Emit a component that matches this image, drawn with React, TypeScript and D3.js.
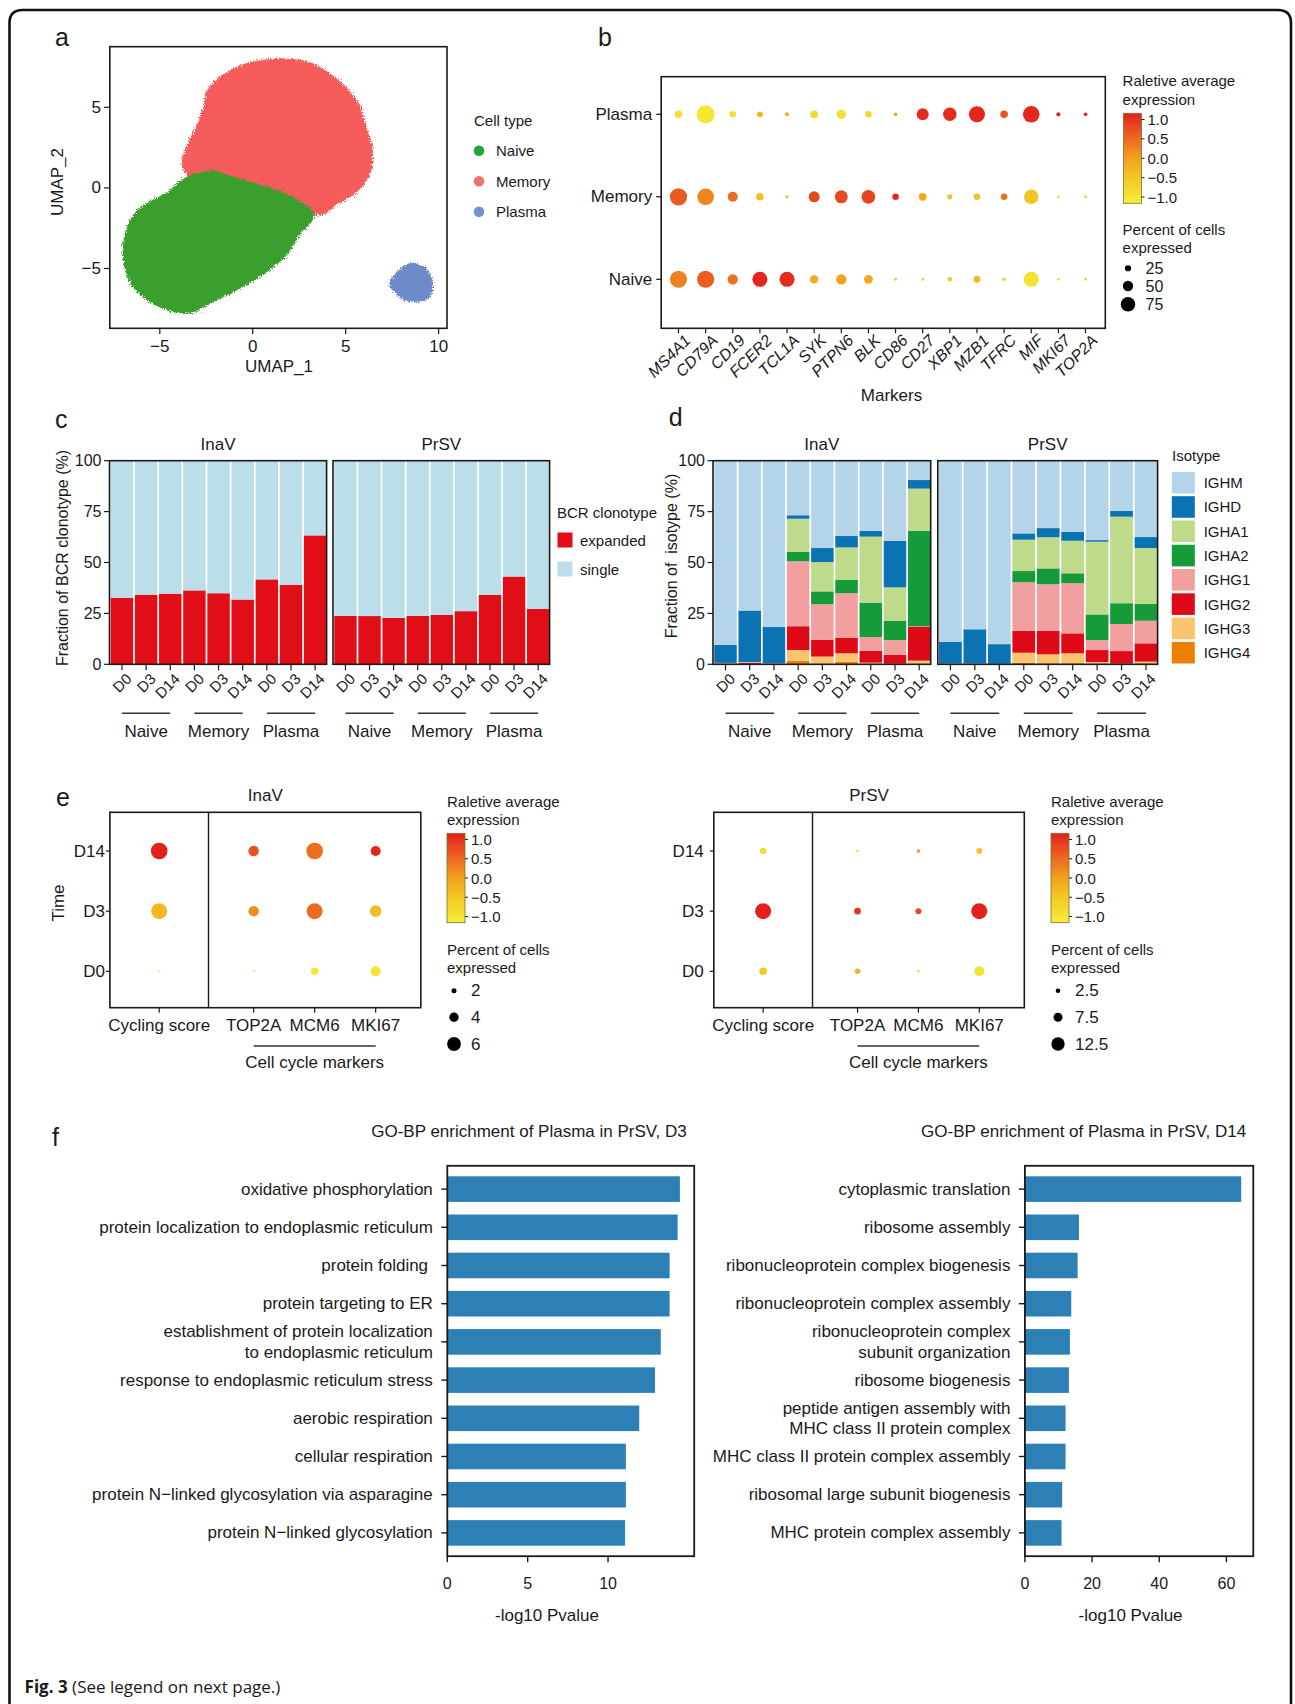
import React from 'react';
import * as d3 from 'd3';

const FONT = "'Liberation Sans', Arial, Helvetica, sans-serif";
const INK = '#1a1a1a';
const fmt = (v: number, d = 0) => (v < 0 ? '\u2212' : '') + Math.abs(v).toFixed(d);

// ================= Panel a : UMAP =================
const umapXTicks = [-5, 0, 5, 10];
const umapYTicks = [-5, 0, 5];
const memoryOutline: number[][] = [
  [-2.33, 6.16], [-1.26, 7.19], [-0.02, 7.75], [1.63, 7.95], [3.07, 7.71], [4.3, 6.88], [5.64, 5.23],
  [6.05, 3.78], [6.4, 2.33], [6.26, 0.89], [5.53, -0.25], [4.51, -0.97], [3.68, -1.62], [2.86, -1.45],
  [1.63, -0.85], [-0.02, -0.35], [-1.67, -0.05], [-3.2, 0.45], [-3.75, 1.5], [-3.35, 2.95], [-2.9, 3.99], [-2.59, 5.02],
];
const naiveOutline: number[][] = [
  [-4.6, -0.35], [-3.9, 0.35], [-3.0, 0.85], [-2.0, 0.95], [-1.0, 0.6], [0.2, 0.2], [1.5, -0.3], [2.6, -0.95],
  [3.25, -1.65], [3.0, -2.2], [2.45, -2.9], [1.85, -4.05], [0.8, -5.1], [-0.64, -6.14], [-2.08, -6.96], [-3.31, -7.69],
  [-4.34, -7.58], [-5.58, -6.96], [-6.5, -5.93], [-6.91, -4.48], [-6.81, -2.83], [-6.3, -1.59], [-5.5, -0.9],
];
const plasmaOutline: number[][] = [
  [7.39, -5.93], [7.9, -5.14], [8.52, -4.73], [9.24, -5.0], [9.61, -5.83], [9.53, -6.65], [8.93, -7.0], [8.11, -6.86], [7.7, -6.45],
];
const cellTypes = ['Naive', 'Memory', 'Plasma'];
const cellTypeLegendColors = ['#1FA33A', '#EC7367', '#7291CD'];
const cellTypePointColors = ['#3A9F2F', '#F75B5B', '#6E8BC9'];

// ================= Panel b : dot plot =================
const markers = ['MS4A1', 'CD79A', 'CD19', 'FCER2', 'TCL1A', 'SYK', 'PTPN6', 'BLK', 'CD86', 'CD27', 'XBP1', 'MZB1', 'TFRC', 'MIF', 'MKI67', 'TOP2A'];
const bCellTypes = ['Plasma', 'Memory', 'Naive'];
const bPctPlasma = [34, 96, 27, 23, 13, 35, 44, 27, 10, 60, 69, 85, 34, 88, 13, 10];
const bExpPlasma = [-0.9, -1.0, -0.9, -0.3, -0.2, -0.8, -0.9, -0.8, -0.1, 1.05, 1.05, 1.1, 0.7, 1.1, 1.15, 1.15];
const bPctMemory = [92, 88, 48, 34, 9, 54, 66, 71, 27, 35, 19, 27, 27, 75, 4, 4];
const bExpMemory = [0.65, 0.25, 0.5, -0.4, -0.5, 0.8, 0.8, 0.85, 1.1, -0.1, -0.4, -0.4, 0.45, -0.45, -0.7, -0.5];
const bPctNaive = [91, 91, 50, 79, 79, 38, 50, 41, 6, 6, 15, 29, 10, 79, 4, 4];
const bExpNaive = [0.3, 0.6, 0.45, 1.1, 1.05, -0.1, 0.0, -0.1, -0.6, -0.8, -0.5, -0.3, -0.6, -0.95, -0.7, -0.5];
const bSizeLegend = [25, 50, 75];
const colorTicks = [1, 0.5, 0, -0.5, -1];

// ================= Panel c : BCR clonotype =================
const timepoints = ['D0', 'D3', 'D14'];
const cellGroups = ['Naive', 'Memory', 'Plasma'];
const barKeys = cellGroups.flatMap((g) => timepoints.map((t) => `${g}|${t}`));
const clonoExpandedInaV = [32.7, 34.2, 34.7, 36.3, 34.9, 31.8, 41.7, 39.0, 63.3];
const clonoExpandedPrSV = [23.8, 23.7, 22.8, 23.8, 24.3, 26.1, 34.1, 43.1, 27.2];
const clonoSingleInaV = [67.3, 65.8, 65.3, 63.7, 65.1, 68.2, 58.3, 61.0, 36.7];
const clonoSinglePrSV = [76.2, 76.3, 77.2, 76.2, 75.7, 73.9, 65.9, 56.9, 72.8];
const clonoTypes = ['expanded', 'single'];
const clonoColors = ['#E10E17', '#BBDEEA'];
const pctTicks = [0, 25, 50, 75, 100];

// ================= Panel d : isotypes =================
const isotypes = ['IGHM', 'IGHD', 'IGHA1', 'IGHA2', 'IGHG1', 'IGHG2', 'IGHG3', 'IGHG4'];
const isotypeColors = ['#B4D4EA', '#0B72B3', '#BEDB8B', '#159B3A', '#F2A09F', '#DF0A18', '#F8C56C', '#EE7F05'];
const isoInaV: Record<string, number[]> = {
  IGHG4: [0, 0, 0, 1.8, 0.3, 1.3, 0.3, 0, 0.3],
  IGHG3: [0.2, 0.2, 0.2, 5.2, 3.5, 4.1, 0.5, 0.3, 1.5],
  IGHG2: [0.2, 0.5, 0.2, 11.7, 8.2, 7.7, 5.9, 4.3, 16.7],
  IGHG1: [0.2, 0.3, 0.1, 31.9, 17.5, 21.8, 6.7, 7.3, 0.2],
  IGHA2: [0, 0, 0, 4.6, 6.3, 6.5, 16.9, 9.5, 46.9],
  IGHA1: [0.1, 0.1, 0.1, 16.3, 14.4, 16.0, 32.4, 16.4, 20.7],
  IGHD: [8.8, 25.3, 17.7, 1.7, 6.9, 5.6, 2.8, 22.8, 4.2],
  IGHM: [90.5, 73.6, 81.7, 26.8, 42.9, 37.0, 34.5, 39.4, 9.5],
};
const isoPrSV: Record<string, number[]> = {
  IGHG4: [0, 0, 0, 0.8, 0.5, 0.5, 0.3, 0, 0.5],
  IGHG3: [0.1, 0.2, 0.1, 4.9, 4.4, 4.9, 0.8, 0.3, 0.8],
  IGHG2: [0.1, 0.2, 0.1, 10.7, 11.5, 9.8, 5.9, 6.2, 9.0],
  IGHG1: [0.1, 0.1, 0, 23.9, 22.9, 24.6, 4.9, 13.3, 11.1],
  IGHA2: [0.3, 0.1, 0.1, 5.5, 7.8, 4.9, 12.6, 10.2, 8.2],
  IGHA1: [0, 0, 0, 15.4, 15.3, 16.0, 35.7, 42.5, 27.5],
  IGHD: [10.5, 16.6, 9.6, 3.1, 4.5, 4.3, 0.8, 2.8, 5.4],
  IGHM: [88.9, 82.8, 90.1, 35.7, 33.1, 35.0, 39.0, 24.7, 37.5],
};

// ================= Panel e : cell cycle =================
const eTimes = ['D14', 'D3', 'D0'];
const eMarkers = ['TOP2A', 'MCM6', 'MKI67'];
const inavCyclingPct = [7.3, 7.0, 0.6];
const inavCyclingExp = [1.15, -0.3, -1.1];
const inavMarkerPct = [[4.5, 4.5, 0.6], [7.3, 7.0, 3.1], [4.3, 5.0, 4.3]];
const inavMarkerExp = [[0.7, 0.2, -1.0], [0.45, 0.5, -1.0], [1.1, -0.35, -0.95]];
const prsvCyclingPct = [4.8, 15.5, 5.9];
const prsvCyclingExp = [-0.9, 1.15, -0.55];
const prsvMarkerPct = [[0.2, 4.8, 3.6], [1.1, 4.1, 0.2], [4.1, 15.5, 8.6]];
const prsvMarkerExp = [[-0.8, 1.0, -0.2], [0.1, 0.8, -0.7], [-0.5, 1.15, -0.95]];
const inavSizeLegend = [2, 4, 6];
const prsvSizeLegend = [2.5, 7.5, 12.5];

// ================= Panel f : GO enrichment =================
const goTermsD3 = [
  'oxidative phosphorylation', 'protein localization to endoplasmic reticulum', 'protein folding ', 'protein targeting to ER',
  'establishment of protein localization\nto endoplasmic reticulum', 'response to endoplasmic reticulum stress', 'aerobic respiration',
  'cellular respiration', 'protein N\u2212linked glycosylation via asparagine', 'protein N\u2212linked glycosylation',
];
const goValuesD3 = [14.47, 14.33, 13.83, 13.83, 13.28, 12.92, 11.94, 11.11, 11.11, 11.06];
const goTicksD3 = [0, 5, 10];
const goTermsD14 = [
  'cytoplasmic translation', 'ribosome assembly', 'ribonucleoprotein complex biogenesis', 'ribonucleoprotein complex assembly',
  'ribonucleoprotein complex\nsubunit organization', 'ribosome biogenesis', 'peptide antigen assembly with\nMHC class II protein complex',
  'MHC class II protein complex assembly', 'ribosomal large subunit biogenesis', 'MHC protein complex assembly',
];
const goValuesD14 = [64.4, 16.1, 15.7, 13.8, 13.4, 13.1, 12.1, 12.1, 11.1, 10.9];
const goTicksD14 = [0, 20, 40, 60];

const exprColor = d3
  .scaleLinear<string>()
  .domain([-1.16, -0.55, 0, 0.55, 1.16])
  .range(['#F6EF38', '#F4CB25', '#F2A11D', '#EC6420', '#E2201C'])
  .clamp(true);

function ColorBar({ x, y0, y1, id }: { x: number; y0: number; y1: number; id: string }) {
  const w = 18;
  const s = d3.scaleLinear().domain([-1.16, 1.16]).range([y1, y0]);
  const stops = d3.range(0, 11).map((i) => ({ off: i / 10, c: exprColor(1.16 - (2.32 * i) / 10) }));
  return (
    <g>
      <defs>
        <linearGradient id={id} x1="0" y1="0" x2="0" y2="1">
          {stops.map((st, i) => (
            <stop key={i} offset={st.off} stopColor={st.c} />
          ))}
        </linearGradient>
      </defs>
      <rect x={x} y={y0} width={w} height={y1 - y0} fill={`url(#${id})`} stroke="#77733a" strokeWidth={0.8} />
      {colorTicks.map((t) => (
        <g key={t}>
          <line x1={x + w} x2={x + w + 3} y1={s(t)} y2={s(t)} stroke={INK} strokeWidth={1} />
          <text x={x + w + 6} y={s(t)} dominantBaseline="central" fontSize={15}>
            {fmt(t, 1)}
          </text>
        </g>
      ))}
    </g>
  );
}

function PanelA() {
  const x = d3.scaleLinear().domain([-7.69, 10.45]).range([109.8, 447]);
  const y = d3.scaleLinear().domain([-8.71, 8.76]).range([328.3, 46.7]);
  const line = d3
    .line<number[]>()
    .x((d) => x(d[0]))
    .y((d) => y(d[1]))
    .curve(d3.curveCatmullRomClosed.alpha(0.5));
  const clusters = [
    { pts: memoryOutline, color: cellTypePointColors[1] },
    { pts: naiveOutline, color: cellTypePointColors[0] },
    { pts: plasmaOutline, color: cellTypePointColors[2] },
  ];
  const legY = d3.scalePoint<string>().domain(cellTypes).range([150.7, 211.7]);
  return (
    <g>
      <defs>
        <filter id="scatterEdge" x="-10%" y="-10%" width="120%" height="120%">
          <feTurbulence type="fractalNoise" baseFrequency="0.75" numOctaves="2" seed="4" result="noise" />
          <feDisplacementMap in="SourceGraphic" in2="noise" scale="7" xChannelSelector="R" yChannelSelector="G" />
        </filter>
        <clipPath id="umapClip">
          <rect x={109.8} y={46.7} width={337.2} height={281.6} />
        </clipPath>
      </defs>
      <text x={55} y={37} dominantBaseline="central" fontSize={25}>a</text>
      <g clipPath="url(#umapClip)">
        <g filter="url(#scatterEdge)">
          {clusters.map((c, i) => (
            <path key={i} d={line(c.pts) || ''} fill={c.color} stroke={c.color} strokeWidth={2.5} strokeDasharray="1 1.5" strokeLinecap="round" />
          ))}
        </g>
      </g>
      <rect x={109.8} y={46.7} width={337.2} height={281.6} fill="none" stroke={INK} strokeWidth={1.6} />
      {umapXTicks.map((t) => (
        <g key={t}>
          <line x1={x(t)} x2={x(t)} y1={328.3} y2={334} stroke={INK} strokeWidth={1.2} />
          <text x={x(t)} y={346} textAnchor="middle" dominantBaseline="central" fontSize={17}>{fmt(t)}</text>
        </g>
      ))}
      {umapYTicks.map((t) => (
        <g key={t}>
          <line x1={104} x2={109.8} y1={y(t)} y2={y(t)} stroke={INK} strokeWidth={1.2} />
          <text x={101} y={y(t)} textAnchor="end" dominantBaseline="central" fontSize={17}>{fmt(t)}</text>
        </g>
      ))}
      <text x={279} y={366} textAnchor="middle" dominantBaseline="central" fontSize={17}>UMAP_1</text>
      <text transform="translate(57,182) rotate(-90)" textAnchor="middle" dominantBaseline="central" fontSize={17}>UMAP_2</text>
      <text x={474} y={120} dominantBaseline="central" fontSize={15}>Cell type</text>
      {cellTypes.map((c, i) => (
        <g key={c}>
          <circle cx={479} cy={legY(c)} r={5.3} fill={cellTypeLegendColors[i]} />
          <text x={496} y={legY(c)} dominantBaseline="central" fontSize={15}>{c}</text>
        </g>
      ))}
    </g>
  );
}

function PanelB() {
  const bx0 = 661.2, bx1 = 1105.3, by0 = 76.7, by1 = 328.3;
  const x = d3.scalePoint<string>().domain(markers).range([678.5, 1085.5]);
  const y = d3.scalePoint<string>().domain(bCellTypes).range([114.3, 279.3]);
  const r = d3.scaleLinear().domain([0, 100]).range([1, 9.3]);
  const rows = [
    { type: 'Plasma', pct: bPctPlasma, exp: bExpPlasma },
    { type: 'Memory', pct: bPctMemory, exp: bExpMemory },
    { type: 'Naive', pct: bPctNaive, exp: bExpNaive },
  ];
  const sizeY = [268.3, 286, 304.3];
  return (
    <g>
      <text x={598} y={37} dominantBaseline="central" fontSize={25}>b</text>
      <rect x={bx0} y={by0} width={bx1 - bx0} height={by1 - by0} fill="none" stroke={INK} strokeWidth={1.6} />
      {rows.map((row) =>
        markers.map((m, i) => (
          <circle key={row.type + m} cx={x(m)} cy={y(row.type)} r={r(row.pct[i])} fill={exprColor(row.exp[i])} />
        ))
      )}
      {bCellTypes.map((t) => (
        <g key={t}>
          <line x1={bx0 - 5} x2={bx0} y1={y(t)} y2={y(t)} stroke={INK} strokeWidth={1.2} />
          <text x={bx0 - 9} y={y(t)} textAnchor="end" dominantBaseline="central" fontSize={17}>{t}</text>
        </g>
      ))}
      {markers.map((m) => (
        <g key={m}>
          <line x1={x(m)} x2={x(m)} y1={by1} y2={by1 + 5} stroke={INK} strokeWidth={1.2} />
          <text transform={`translate(${(x(m) || 0) + 5},${by1 + 5}) rotate(-45)`} textAnchor="end" dy="0.72em" fontSize={16} fontStyle="italic">
            {m}
          </text>
        </g>
      ))}
      <text x={891.5} y={395} textAnchor="middle" dominantBaseline="central" fontSize={17}>Markers</text>
      <text x={1122.6} y={80.7} dominantBaseline="central" fontSize={15}>Raletive average</text>
      <text x={1122.6} y={99} dominantBaseline="central" fontSize={15}>expression</text>
      <ColorBar x={1123.5} y0={113.3} y1={203.3} id="cbB" />
      <text x={1122.6} y={229.3} dominantBaseline="central" fontSize={15}>Percent of cells</text>
      <text x={1122.6} y={247.3} dominantBaseline="central" fontSize={15}>expressed</text>
      {bSizeLegend.map((v, i) => (
        <g key={v}>
          <circle cx={1128} cy={sizeY[i]} r={r(v)} fill="#000" />
          <text x={1145.5} y={sizeY[i]} dominantBaseline="central" fontSize={16}>{v}</text>
        </g>
      ))}
    </g>
  );
}

function FacetAxes({ x0, x1, xb, title, yTop, yBot }: { x0: number; x1: number; xb: d3.ScaleBand<string>; title: string; yTop: number; yBot: number }) {
  const bw = xb.bandwidth();
  return (
    <g>
      <rect x={x0} y={yTop} width={x1 - x0} height={yBot - yTop} fill="none" stroke={INK} strokeWidth={1.6} />
      <text x={(x0 + x1) / 2} y={444} textAnchor="middle" dominantBaseline="central" fontSize={17}>{title}</text>
      {barKeys.map((k) => {
        const cx = (xb(k) || 0) + bw / 2;
        return (
          <g key={k}>
            <line x1={cx} x2={cx} y1={yBot} y2={yBot + 6} stroke={INK} strokeWidth={1.2} />
            <text transform={`translate(${cx + 3},${yBot + 8}) rotate(-45)`} textAnchor="end" dy="0.72em" fontSize={15}>
              {k.split('|')[1]}
            </text>
          </g>
        );
      })}
      {cellGroups.map((g) => {
        const a = (xb(`${g}|D0`) || 0) + bw / 2;
        const b = (xb(`${g}|D14`) || 0) + bw / 2;
        return (
          <g key={g}>
            <line x1={a} x2={b} y1={713.3} y2={713.3} stroke="#333" strokeWidth={1.6} />
            <text x={(a + b) / 2} y={731} textAnchor="middle" dominantBaseline="central" fontSize={17}>{g}</text>
          </g>
        );
      })}
    </g>
  );
}

function PanelC() {
  const yTop = 460.7, yBot = 664.3;
  const y = d3.scaleLinear().domain([0, 100]).range([yBot, yTop]);
  const facets = [
    { title: 'InaV', x0: 109.5, x1: 326.6, exp: clonoExpandedInaV, sing: clonoSingleInaV },
    { title: 'PrSV', x0: 333, x1: 549.6, exp: clonoExpandedPrSV, sing: clonoSinglePrSV },
  ];
  return (
    <g>
      <text x={55} y={419} dominantBaseline="central" fontSize={25}>c</text>
      {facets.map((f) => {
        const xb = d3.scaleBand<string>().domain(barKeys).range([f.x0 + 1, f.x1]).paddingInner(0.07).paddingOuter(0.01);
        const rows = barKeys.map((k, i) => ({ key: k, expanded: f.exp[i], single: f.sing[i] }));
        const stacked = d3.stack<any>().keys(clonoTypes)(rows);
        return (
          <g key={f.title}>
            {stacked.map((s, si) =>
              s.map((d, i) => (
                <rect key={si + '-' + i} x={xb(rows[i].key)} width={xb.bandwidth()} y={y(d[1])} height={y(d[0]) - y(d[1])} fill={clonoColors[si]} />
              ))
            )}
            <FacetAxes x0={f.x0} x1={f.x1} xb={xb} title={f.title} yTop={yTop} yBot={yBot} />
          </g>
        );
      })}
      {pctTicks.map((t) => (
        <g key={t}>
          <line x1={104} x2={109.5} y1={y(t)} y2={y(t)} stroke={INK} strokeWidth={1.2} />
          <text x={101.5} y={y(t)} textAnchor="end" dominantBaseline="central" fontSize={16}>{t}</text>
        </g>
      ))}
      <text transform="translate(62,558) rotate(-90)" textAnchor="middle" dominantBaseline="central" fontSize={16}>
        Fraction of BCR clonotype (%)
      </text>
      <text x={557} y={512} dominantBaseline="central" fontSize={15}>BCR clonotype</text>
      {clonoTypes.map((c, i) => (
        <g key={c}>
          <rect x={557.5} y={[540, 569][i] - 7.5} width={15} height={15} fill={clonoColors[i]} />
          <text x={580} y={[540, 569][i]} dominantBaseline="central" fontSize={15}>{c}</text>
        </g>
      ))}
    </g>
  );
}

function PanelD() {
  const yTop = 460.7, yBot = 664.3;
  const y = d3.scaleLinear().domain([0, 100]).range([yBot, yTop]);
  const stackOrder = [...isotypes].reverse();
  const facets = [
    { title: 'InaV', x0: 713, x1: 930.7, data: isoInaV },
    { title: 'PrSV', x0: 937.8, x1: 1157.6, data: isoPrSV },
  ];
  const colorOf = d3.scaleOrdinal<string, string>().domain(isotypes).range(isotypeColors);
  const legY = d3.scalePoint<string>().domain(isotypes).range([482.7, 652.7]);
  return (
    <g>
      <text x={668.7} y={417} dominantBaseline="central" fontSize={25}>d</text>
      {facets.map((f) => {
        const xb = d3.scaleBand<string>().domain(barKeys).range([f.x0 + 1, f.x1]).paddingInner(0.07).paddingOuter(0.01);
        const rows = barKeys.map((k, i) => {
          const o: any = { key: k };
          isotypes.forEach((iso) => (o[iso] = f.data[iso][i]));
          return o;
        });
        const stacked = d3.stack<any>().keys(stackOrder)(rows);
        return (
          <g key={f.title}>
            {stacked.map((s) =>
              s.map((d, i) => (
                <rect key={s.key + '-' + i} x={xb(rows[i].key)} width={xb.bandwidth()} y={y(d[1])} height={Math.max(0, y(d[0]) - y(d[1]))} fill={colorOf(s.key)} />
              ))
            )}
            <FacetAxes x0={f.x0} x1={f.x1} xb={xb} title={f.title} yTop={yTop} yBot={yBot} />
          </g>
        );
      })}
      {pctTicks.map((t) => (
        <g key={t}>
          <line x1={707.5} x2={713} y1={y(t)} y2={y(t)} stroke={INK} strokeWidth={1.2} />
          <text x={705} y={y(t)} textAnchor="end" dominantBaseline="central" fontSize={16}>{t}</text>
        </g>
      ))}
      <text transform="translate(671,556) rotate(-90)" textAnchor="middle" dominantBaseline="central" fontSize={16} style={{ whiteSpace: 'pre' }}>
        {'Fraction of  isotype (%)'}
      </text>
      <text x={1172} y={455.7} dominantBaseline="central" fontSize={15}>Isotype</text>
      {isotypes.map((iso) => (
        <g key={iso}>
          <rect x={1171.8} y={(legY(iso) || 0) - 10.8} width={23} height={21.6} fill={colorOf(iso)} />
          <text x={1203.7} y={legY(iso)} dominantBaseline="central" fontSize={15}>{iso}</text>
        </g>
      ))}
    </g>
  );
}

type EProps = {
  x0: number; x1: number; xDiv: number; title: string;
  cycPct: number[]; cycExp: number[]; mkPct: number[][]; mkExp: number[][];
  rDomain: number[]; rRange: number[]; legX: number; sizeVals: number[];
  yLabelGap: number; showTime: boolean; showLetter: boolean; gid: string;
};

function PanelE(p: EProps) {
  const y0 = 812.3, y1 = 1007.7;
  const y = d3.scalePoint<string>().domain(eTimes).range([851, 971.3]);
  const xc = d3.scalePoint<string>().domain(['Cycling score']).range([p.x0, p.xDiv]).padding(0.5);
  const xm = d3.scalePoint<string>().domain(eMarkers).range([p.xDiv, p.x1]).padding(0.74);
  const r = d3.scaleLinear().domain(p.rDomain).range(p.rRange);
  const sizeY = [990.7, 1017.3, 1044];
  const cyc = xc('Cycling score') || 0;
  const mA = xm(eMarkers[0]) || 0, mB = xm(eMarkers[2]) || 0;
  return (
    <g>
      {p.showLetter && <text x={56} y={797} dominantBaseline="central" fontSize={25}>e</text>}
      <text x={(p.x0 + p.x1) / 2} y={795} textAnchor="middle" dominantBaseline="central" fontSize={17}>{p.title}</text>
      <rect x={p.x0} y={y0} width={p.x1 - p.x0} height={y1 - y0} fill="none" stroke={INK} strokeWidth={1.6} />
      <line x1={p.xDiv} x2={p.xDiv} y1={y0} y2={y1} stroke={INK} strokeWidth={1.4} />
      {eTimes.map((t, ti) => (
        <g key={t}>
          <circle cx={cyc} cy={y(t)} r={r(p.cycPct[ti])} fill={exprColor(p.cycExp[ti])} />
          {eMarkers.map((m, mi) => (
            <circle key={m} cx={xm(m)} cy={y(t)} r={r(p.mkPct[mi][ti])} fill={exprColor(p.mkExp[mi][ti])} />
          ))}
          <line x1={p.x0 - 4} x2={p.x0} y1={y(t)} y2={y(t)} stroke={INK} strokeWidth={1.2} />
          <text x={p.x0 - p.yLabelGap} y={y(t)} textAnchor="end" dominantBaseline="central" fontSize={17}>{t}</text>
        </g>
      ))}
      {[{ k: 'Cycling score', x: cyc }, ...eMarkers.map((m) => ({ k: m, x: xm(m) || 0 }))].map((d) => (
        <g key={d.k}>
          <line x1={d.x} x2={d.x} y1={y1} y2={y1 + 5} stroke={INK} strokeWidth={1.2} />
          <text x={d.x} y={1025} textAnchor="middle" dominantBaseline="central" fontSize={17}>{d.k}</text>
        </g>
      ))}
      <line x1={mA} x2={mB} y1={1046} y2={1046} stroke="#333" strokeWidth={1.6} />
      <text x={(mA + mB) / 2} y={1062} textAnchor="middle" dominantBaseline="central" fontSize={17}>Cell cycle markers</text>
      {p.showTime && (
        <text transform="translate(58,903) rotate(-90)" textAnchor="middle" dominantBaseline="central" fontSize={17}>Time</text>
      )}
      <text x={p.legX} y={801} dominantBaseline="central" fontSize={15}>Raletive average</text>
      <text x={p.legX} y={819} dominantBaseline="central" fontSize={15}>expression</text>
      <ColorBar x={p.legX} y0={833.3} y1={922.7} id={p.gid} />
      <text x={p.legX} y={949.3} dominantBaseline="central" fontSize={15}>Percent of cells</text>
      <text x={p.legX} y={967.7} dominantBaseline="central" fontSize={15}>expressed</text>
      {p.sizeVals.map((v, i) => (
        <g key={v}>
          <circle cx={p.legX + 7} cy={sizeY[i]} r={r(v)} fill="#000" />
          <text x={p.legX + 24} y={sizeY[i]} dominantBaseline="central" fontSize={17}>{v}</text>
        </g>
      ))}
    </g>
  );
}

type GoProps = {
  x0: number; x1: number; title: string; titleX: number; terms: string[]; values: number[];
  xMax: number; ticks: number[]; axisTitleX: number;
};

function GoPanel(p: GoProps) {
  const y0 = 1165.8, y1 = 1556.2;
  const x = d3.scaleLinear().domain([0, p.xMax]).range([p.x0, p.x1]);
  const yb = d3.scaleBand<string>().domain(p.terms).range([y0, y1]).paddingInner(0.33).paddingOuter(0.275);
  return (
    <g>
      <text x={p.titleX} y={1131.4} textAnchor="middle" dominantBaseline="central" fontSize={17}>{p.title}</text>
      {p.terms.map((t, i) => {
        const cy = (yb(t) || 0) + yb.bandwidth() / 2;
        const lines = t.split('\n');
        return (
          <g key={t}>
            <rect x={x(0)} y={yb(t)} width={x(p.values[i]) - x(0)} height={yb.bandwidth()} fill="#2C80B6" />
            <line x1={p.x0 - 6} x2={p.x0} y1={cy} y2={cy} stroke={INK} strokeWidth={1.4} />
            {lines.map((ln, li) => (
              <text key={li} x={p.x0 - 14.5} y={cy + (li - (lines.length - 1) / 2) * 20.3} textAnchor="end" dominantBaseline="central" fontSize={17} style={{ whiteSpace: 'pre' }}>
                {ln}
              </text>
            ))}
          </g>
        );
      })}
      <rect x={p.x0} y={y0} width={p.x1 - p.x0} height={y1 - y0} fill="none" stroke={INK} strokeWidth={1.8} />
      {p.ticks.map((t) => (
        <g key={t}>
          <line x1={x(t)} x2={x(t)} y1={y1} y2={y1 + 6} stroke={INK} strokeWidth={1.4} />
          <text x={x(t)} y={1583} textAnchor="middle" dominantBaseline="central" fontSize={16}>{t}</text>
        </g>
      ))}
      <text x={p.axisTitleX} y={1615.5} textAnchor="middle" dominantBaseline="central" fontSize={17}>-log10 Pvalue</text>
    </g>
  );
}

export default function App() {
  return (
    <svg
      width={1295}
      height={1704}
      viewBox="0 0 1295 1704"
      style={{ position: 'absolute', left: 0, top: 0, display: 'block', background: '#fff' }}
      fontFamily={FONT}
      fill={INK}
    >
      <rect width={1295} height={1704} fill="#fff" />
      <path d="M9.5 1704 L9.5 23 Q9.5 10 22.5 10 L1278 10 Q1291 10 1291 23 L1291 1704" fill="none" stroke="#111" strokeWidth={2.6} />
      <PanelA />
      <PanelB />
      <PanelC />
      <PanelD />
      <PanelE
        x0={109.9} x1={420.8} xDiv={208.5} title="InaV"
        cycPct={inavCyclingPct} cycExp={inavCyclingExp} mkPct={inavMarkerPct} mkExp={inavMarkerExp}
        rDomain={[0, 6]} rRange={[0.3, 6.9]} legX={447} sizeVals={inavSizeLegend}
        yLabelGap={5} showTime={true} showLetter={true} gid="cbE1"
      />
      <PanelE
        x0={713.8} x1={1024.3} xDiv={812.5} title="PrSV"
        cycPct={prsvCyclingPct} cycExp={prsvCyclingExp} mkPct={prsvMarkerPct} mkExp={prsvMarkerExp}
        rDomain={[0, 12.5]} rRange={[1.2, 6.7]} legX={1051} sizeVals={prsvSizeLegend}
        yLabelGap={10} showTime={false} showLetter={false} gid="cbE2"
      />
      <text x={52} y={1137} dominantBaseline="central" fontSize={25}>f</text>
      <GoPanel x0={447.3} x1={694.2} title="GO-BP enrichment of Plasma in PrSV, D3" titleX={529} terms={goTermsD3} values={goValuesD3} xMax={15.36} ticks={goTicksD3} axisTitleX={547} />
      <GoPanel x0={1024.9} x1={1253.3} title="GO-BP enrichment of Plasma in PrSV, D14" titleX={1083.6} terms={goTermsD14} values={goValuesD14} xMax={68} ticks={goTicksD14} axisTitleX={1130.6} />
      <text x={24.6} y={1685.6} dominantBaseline="central" fontSize={17} fontFamily="'Open Sans', 'Noto Sans', sans-serif">
        <tspan fontWeight="bold">Fig. 3</tspan>
        <tspan> (See legend on next page.)</tspan>
      </text>
    </svg>
  );
}
